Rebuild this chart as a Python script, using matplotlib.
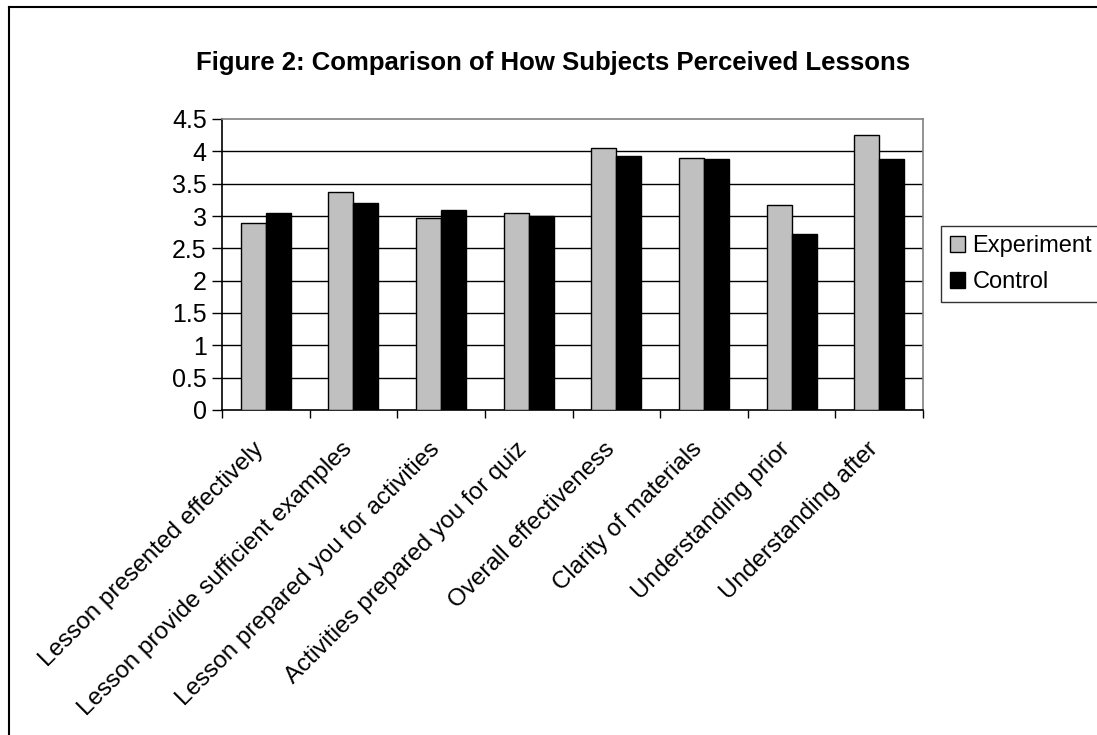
import matplotlib.pyplot as plt
import matplotlib.transforms as mtransforms
import numpy as np
from matplotlib.patches import Rectangle
from matplotlib.lines import Line2D

plt.rcParams['font.family'] = ['Liberation Sans', 'DejaVu Sans']

categories = [
    "Lesson presented effectively",
    "Lesson provide sufficient examples",
    "Lesson prepared you for activities",
    "Activities prepared you for quiz",
    "Overall effectiveness",
    "Clarity of materials",
    "Understanding prior",
    "Understanding after",
]
experiment = [2.89, 3.37, 2.97, 3.04, 4.05, 3.90, 3.17, 4.25]
control = [3.05, 3.20, 3.10, 3.00, 3.93, 3.88, 2.72, 3.88]
yticks = [0, 0.5, 1, 1.5, 2, 2.5, 3, 3.5, 4, 4.5]
ytick_labels = ["0", "0.5", "1", "1.5", "2", "2.5", "3", "3.5", "4", "4.5"]

W, H = 1097, 735
fig = plt.figure(figsize=(W / 100, H / 100), dpi=100)
ax = fig.add_axes([222 / W, 1 - 410 / H, 701 / W, 291 / H])

x = np.arange(len(categories))
w = 1 / 3.5
ax.bar(x - w / 2, experiment, w, color="#c0c0c0", edgecolor="black",
       linewidth=1.0, label="Experiment", zorder=3)
ax.bar(x + w / 2, control, w, color="black", edgecolor="black",
       linewidth=1.0, label="Control", zorder=3)

ax.set_xlim(-0.5, len(categories) - 0.5)
ax.set_ylim(0, 4.5)
ax.set_yticks(yticks)
ax.set_yticklabels(ytick_labels, fontsize=18)
for y in yticks[1:-1]:
    ax.axhline(y, color="black", linewidth=1.0, zorder=1)

# category labels, rotated, ending at the middle of each group
ax.set_xticks(x)
ax.set_xticklabels(categories, rotation=45, ha="right", va="center",
                   rotation_mode="anchor", fontsize=17.5)
ax.tick_params(axis="x", length=0, pad=26)
shift = mtransforms.ScaledTranslation(-5 / 100, 0, fig.dpi_scale_trans)
for lbl in ax.get_xticklabels():
    lbl.set_transform(lbl.get_transform() + shift)
ax.tick_params(axis="y", length=7, width=1.0, direction="out", pad=4)
# tick marks between groups
ax.set_xticks(np.arange(-0.5, len(categories)), minor=True)
ax.tick_params(axis="x", which="minor", length=6, width=1.0, direction="out")

ax.spines["left"].set_color("black")
ax.spines["bottom"].set_color("black")
ax.spines["top"].set_color("#808080")
ax.spines["right"].set_color("#808080")
for s in ax.spines.values():
    s.set_linewidth(1.2)

fig.text(553 / W, 1 - 63 / H, "Figure 2: Comparison of How Subjects Perceived Lessons",
         ha="center", va="center", fontsize=18.5, fontweight="bold")

handles = [
    Rectangle((0, 0), 1, 1, facecolor="#c0c0c0", edgecolor="black", linewidth=1.0),
    Rectangle((0, 0), 1, 1, facecolor="black", edgecolor="black", linewidth=1.0),
]
leg = fig.legend(handles, ["Experiment", "Control"], loc="upper left",
                 bbox_to_anchor=(941 / W, 1 - 226 / H), fontsize=17,
                 frameon=True, fancybox=False, handlelength=0.65, handleheight=0.65,
                 handletextpad=0.3, borderpad=0.38, labelspacing=0.6,
                 borderaxespad=0)
leg.get_frame().set_edgecolor("black")
leg.get_frame().set_linewidth(1.0)

# outer chart frame
fig.add_artist(Line2D([9 / W, 9 / W], [0, 1 - 7 / H], color="black",
                      linewidth=1.5, transform=fig.transFigure))
fig.add_artist(Line2D([9 / W, 1], [1 - 7 / H, 1 - 7 / H], color="black",
                      linewidth=1.5, transform=fig.transFigure))

fig.savefig("out.png", dpi=100)
